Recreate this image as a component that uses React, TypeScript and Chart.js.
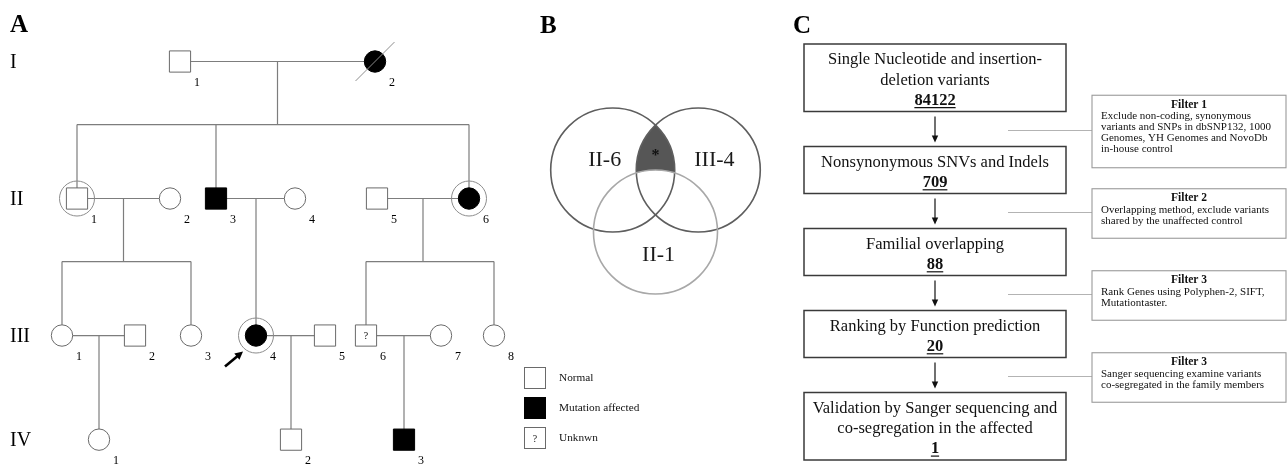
import React, { useEffect, useRef } from 'react';
import { Chart, registerables } from 'chart.js';

Chart.register(...registerables);

const SERIF = "'Liberation Serif', 'Times New Roman', Times, serif";

// ---------------- Panel A: pedigree ----------------
const GENERATIONS = ['I', 'II', 'III', 'IV'];
const GEN_LEVEL = [0, 1, 2, 2.76];
const MEMBER_IDS = ['I-1', 'I-2', 'II-1', 'II-2', 'II-3', 'II-4', 'II-5', 'II-6', 'III-1', 'III-2', 'III-3', 'III-4', 'III-5', 'III-6', 'III-7', 'III-8', 'IV-1', 'IV-2', 'IV-3'];
const MEMBER_GEN = [0, 0, 1, 1, 1, 1, 1, 1, 2, 2, 2, 2, 2, 2, 2, 2, 3, 3, 3];
const MEMBER_POS = [18.0, 37.5, 7.7, 17.0, 21.6, 29.5, 37.7, 46.9, 6.2, 13.5, 19.1, 25.6, 32.5, 36.6, 44.1, 49.4, 9.9, 29.1, 40.4];
const MEMBER_SEX = ['M', 'F', 'M', 'F', 'M', 'F', 'M', 'F', 'F', 'M', 'F', 'F', 'M', 'M', 'F', 'F', 'F', 'M', 'M'];
const MEMBER_STATUS = ['normal', 'affected', 'normal', 'normal', 'affected', 'normal', 'normal', 'affected', 'normal', 'normal', 'normal', 'affected', 'normal', 'unknown', 'normal', 'normal', 'normal', 'normal', 'affected'];
const SEQUENCED_IDS = ['II-1', 'II-6', 'III-4'];
const DECEASED_IDS = ['I-2'];
const PROBAND_ID = 'III-4';
const COUPLES = [['I-1', 'I-2'], ['II-1', 'II-2'], ['II-3', 'II-4'], ['II-5', 'II-6'], ['III-1', 'III-2'], ['III-4', 'III-5'], ['III-6', 'III-7']];
const CHILDREN = [['II-1', 'II-3', 'II-6'], ['III-1', 'III-3'], ['III-4'], ['III-6', 'III-8'], ['IV-1'], ['IV-2'], ['IV-3']];
const LEGEND_LABELS = ['Normal', 'Mutation affected', 'Unknwn'];
const LEGEND_STATUS = ['normal', 'affected', 'unknown'];

// ---------------- Panel B: Venn ----------------
const VENN_SETS = ['II-6', 'III-4', 'II-1'];
const VENN_X = [-0.69, 0.69, 0];
const VENN_Y = [0, 0, -1];
const VENN_R = [1, 1, 1];
const VENN_MARK = '*';

// ---------------- Panel C: filtering flow ----------------
const STEP_LABELS = [
  ['Single Nucleotide and insertion-', 'deletion variants'],
  ['Nonsynonymous SNVs and Indels'],
  ['Familial overlapping'],
  ['Ranking by Function prediction'],
  ['Validation by Sanger sequencing and', 'co-segregation in the affected'],
];
const STEP_COUNTS = ['84122', '709', '88', '20', '1'];
const FILTER_TITLES = ['Filter 1', 'Filter 2', 'Filter 3', 'Filter 3'];
const FILTER_LINES = [
  ['Exclude non-coding, synonymous', 'variants and SNPs in dbSNP132, 1000', 'Genomes, YH Genomes and NovoDb', 'in-house control'],
  ['Overlapping method, exclude variants', 'shared by the unaffected control'],
  ['Rank Genes using Polyphen-2, SIFT,', 'Mutationtaster.'],
  ['Sanger sequencing examine variants', 'co-segregated in the family members'],
];

// ---------------- styles ----------------
const LINE_COLOR = '#7d7d7d';
const SYMBOL_BORDER = '#6a6a6a';

const idx = (id: string) => MEMBER_IDS.indexOf(id);
const memberPoint = (id: string) => ({ x: MEMBER_POS[idx(id)], y: GEN_LEVEL[MEMBER_GEN[idx(id)]] });

function panelLetter(ctx: CanvasRenderingContext2D, t: string, x: number, y: number) {
  ctx.save();
  ctx.font = `bold 25px ${SERIF}`;
  ctx.fillStyle = '#000';
  ctx.textAlign = 'left';
  ctx.textBaseline = 'alphabetic';
  ctx.fillText(t, x, y);
  ctx.restore();
}

const baseOptions = {
  responsive: false,
  maintainAspectRatio: false,
  animation: false,
  events: [],
  layout: { padding: 0, autoPadding: false },
  plugins: { legend: { display: false }, tooltip: { enabled: false } },
};

const pedigreePlugin = {
  id: 'pedigree',
  beforeDatasetsDraw(chart: any) {
    const { ctx, scales } = chart;
    const sx = scales.x, sy = scales.y;
    const px = (id: string) => sx.getPixelForValue(MEMBER_POS[idx(id)]);
    const py = (id: string) => sy.getPixelForValue(GEN_LEVEL[MEMBER_GEN[idx(id)]]);
    const genStep = sy.getPixelForValue(1) - sy.getPixelForValue(0);
    ctx.save();
    ctx.strokeStyle = LINE_COLOR;
    ctx.lineWidth = 1.2;
    COUPLES.forEach(([a, b], k) => {
      const ya = py(a);
      ctx.beginPath();
      ctx.moveTo(px(a), ya);
      ctx.lineTo(px(b), ya);
      ctx.stroke();
      const dropX = (px(a) + px(b)) / 2;
      const kids = CHILDREN[k];
      const kx = kids.map(px);
      const ky = py(kids[0]);
      const sibY = ya + genStep * 0.46;
      ctx.beginPath();
      if (kids.length === 1) {
        ctx.moveTo(kx[0], ya);
        ctx.lineTo(kx[0], ky);
      } else {
        ctx.moveTo(dropX, ya);
        ctx.lineTo(dropX, sibY);
        ctx.moveTo(Math.min(...kx, dropX), sibY);
        ctx.lineTo(Math.max(...kx, dropX), sibY);
        kx.forEach((x) => {
          ctx.moveTo(x, sibY);
          ctx.lineTo(x, ky);
        });
      }
      ctx.stroke();
    });
    ctx.restore();
  },
  afterDatasetsDraw(chart: any) {
    const { ctx, scales, chartArea } = chart;
    const sx = scales.x, sy = scales.y;
    ctx.save();
    // generation labels
    ctx.fillStyle = '#000';
    ctx.font = `20px ${SERIF}`;
    ctx.textAlign = 'left';
    ctx.textBaseline = 'middle';
    GENERATIONS.forEach((g, i) => ctx.fillText(g, chartArea.left + 10, sy.getPixelForValue(GEN_LEVEL[i]) + 1));
    // member numbers
    ctx.font = `12px ${SERIF}`;
    ctx.textAlign = 'center';
    MEMBER_IDS.forEach((id, i) => {
      const x = sx.getPixelForValue(MEMBER_POS[i]);
      const y = sy.getPixelForValue(GEN_LEVEL[MEMBER_GEN[i]]);
      ctx.fillText(id.split('-')[1], x + 17, y + 21);
      if (MEMBER_STATUS[i] === 'unknown') {
        ctx.font = `10px ${SERIF}`;
        ctx.fillText('?', x, y + 1);
        ctx.font = `12px ${SERIF}`;
      }
    });
    // proband arrow
    const pi = idx(PROBAND_ID);
    const cx = sx.getPixelForValue(MEMBER_POS[pi]);
    const cy = sy.getPixelForValue(GEN_LEVEL[MEMBER_GEN[pi]]);
    const x0 = cx - 31, y0 = cy + 31, x1 = cx - 13, y1 = cy + 16;
    const ang = Math.atan2(y1 - y0, x1 - x0);
    ctx.strokeStyle = '#000';
    ctx.fillStyle = '#000';
    ctx.lineWidth = 2.6;
    ctx.beginPath();
    ctx.moveTo(x0, y0);
    ctx.lineTo(x1 - 5 * Math.cos(ang), y1 - 5 * Math.sin(ang));
    ctx.stroke();
    ctx.beginPath();
    ctx.moveTo(x1, y1);
    ctx.lineTo(x1 - 8 * Math.cos(ang) + 4 * Math.sin(ang), y1 - 8 * Math.sin(ang) - 4 * Math.cos(ang));
    ctx.lineTo(x1 - 8 * Math.cos(ang) - 4 * Math.sin(ang), y1 - 8 * Math.sin(ang) + 4 * Math.cos(ang));
    ctx.closePath();
    ctx.fill();
    // legend
    const lx = chartArea.right - 136;
    const ly = chartArea.bottom - 98;
    LEGEND_LABELS.forEach((label, i) => {
      const top = ly + i * 30;
      ctx.fillStyle = LEGEND_STATUS[i] === 'affected' ? '#000' : '#fff';
      ctx.fillRect(lx, top, 21, 21);
      ctx.strokeStyle = LEGEND_STATUS[i] === 'affected' ? '#000' : SYMBOL_BORDER;
      ctx.lineWidth = 1;
      ctx.strokeRect(lx + 0.5, top + 0.5, 21, 21);
      ctx.fillStyle = '#111';
      if (LEGEND_STATUS[i] === 'unknown') {
        ctx.font = `10px ${SERIF}`;
        ctx.textAlign = 'center';
        ctx.fillText('?', lx + 11, top + 12);
      }
      ctx.font = `11.3px ${SERIF}`;
      ctx.textAlign = 'left';
      ctx.fillText(label, lx + 35, top + 11);
    });
    ctx.restore();
    panelLetter(ctx, 'A', chartArea.left + 10, chartArea.top + 32);
  },
};

function pedigreeConfig(): any {
  return {
    type: 'scatter',
    data: {
      datasets: [
        {
          label: 'sequenced',
          data: SEQUENCED_IDS.map(memberPoint),
          pointStyle: 'circle',
          pointRadius: 17.5,
          pointBackgroundColor: 'rgba(0,0,0,0)',
          pointBorderColor: '#8c8c8c',
          pointBorderWidth: 1,
        },
        {
          label: 'deceased',
          data: DECEASED_IDS.map(memberPoint),
          pointStyle: 'line',
          pointRotation: -45,
          pointRadius: 27.5,
          pointBorderColor: '#8c8c8c',
          pointBorderWidth: 1,
        },
        {
          label: 'members',
          data: MEMBER_IDS.map(memberPoint),
          pointStyle: (c: any) => (MEMBER_SEX[c.dataIndex] === 'M' ? 'rect' : 'circle'),
          pointRadius: (c: any) => (MEMBER_SEX[c.dataIndex] === 'M' ? 15 : 10.7),
          pointBackgroundColor: (c: any) => (MEMBER_STATUS[c.dataIndex] === 'affected' ? '#000' : '#fff'),
          pointBorderColor: (c: any) => (MEMBER_STATUS[c.dataIndex] === 'affected' ? '#000' : SYMBOL_BORDER),
          pointBorderWidth: 1,
        },
      ],
    },
    options: {
      ...baseOptions,
      scales: {
        x: { type: 'linear', display: false, min: 0, max: 66 },
        y: { type: 'linear', display: false, reverse: true, min: -0.449, max: 2.945 },
      },
    },
    plugins: [pedigreePlugin],
  };
}

// ---------------- Venn ----------------
const VENN_COLORS = ['#5e5e5e', '#5e5e5e', '#a8a8a8'];
const VENN_LABEL_OFFSETS = [[-0.13, 0.15], [0.26, 0.15], [0.05, -0.37]];

const vennPlugin = {
  id: 'venn',
  beforeDatasetsDraw(chart: any) {
    const { ctx, scales, chartArea } = chart;
    const sx = scales.x, sy = scales.y;
    const unit = sx.getPixelForValue(1) - sx.getPixelForValue(0);
    const c = VENN_SETS.map((_, i) => ({ x: sx.getPixelForValue(VENN_X[i]), y: sy.getPixelForValue(VENN_Y[i]), r: unit * VENN_R[i] }));
    ctx.save();
    ctx.beginPath();
    ctx.arc(c[0].x, c[0].y, c[0].r, 0, Math.PI * 2);
    ctx.clip();
    ctx.beginPath();
    ctx.arc(c[1].x, c[1].y, c[1].r, 0, Math.PI * 2);
    ctx.clip();
    ctx.beginPath();
    ctx.rect(chartArea.left, chartArea.top, chartArea.width, chartArea.height);
    ctx.arc(c[2].x, c[2].y, c[2].r, 0, Math.PI * 2);
    ctx.fillStyle = '#565656';
    ctx.fill('evenodd');
    ctx.restore();
  },
  afterDatasetsDraw(chart: any) {
    const { ctx, scales, chartArea } = chart;
    const sx = scales.x, sy = scales.y;
    ctx.save();
    ctx.fillStyle = '#1a1a1a';
    ctx.font = `22px ${SERIF}`;
    ctx.textAlign = 'center';
    ctx.textBaseline = 'middle';
    VENN_SETS.forEach((s, i) => {
      ctx.fillText(s, sx.getPixelForValue(VENN_X[i] + VENN_LABEL_OFFSETS[i][0]), sy.getPixelForValue(VENN_Y[i] + VENN_LABEL_OFFSETS[i][1]));
    });
    ctx.font = `bold 16px ${SERIF}`;
    ctx.fillStyle = '#111';
    ctx.fillText(VENN_MARK, sx.getPixelForValue((VENN_X[0] + VENN_X[1]) / 2), sy.getPixelForValue((VENN_Y[0] + VENN_Y[1]) / 2 + 0.22));
    ctx.restore();
    panelLetter(ctx, 'B', chartArea.left + 20, chartArea.top + 33);
  },
};

function vennConfig(): any {
  return {
    type: 'scatter',
    data: {
      datasets: [
        {
          label: 'sets',
          data: VENN_SETS.map((_, i) => ({ x: VENN_X[i], y: VENN_Y[i] })),
          pointStyle: 'circle',
          pointRadius: (c: any) => {
            const sx = c.chart.scales.x;
            return (sx.getPixelForValue(1) - sx.getPixelForValue(0)) * VENN_R[c.dataIndex];
          },
          pointBackgroundColor: 'rgba(0,0,0,0)',
          pointBorderColor: (c: any) => VENN_COLORS[c.dataIndex],
          pointBorderWidth: 1.6,
        },
      ],
    },
    options: {
      ...baseOptions,
      scales: {
        x: { type: 'linear', display: false, min: -2.185, max: 2.008 },
        y: { type: 'linear', display: false, min: -2.581, max: 2.742 },
      },
    },
    plugins: [vennPlugin],
  };
}

// ---------------- Flowchart ----------------
const flowPlugin = {
  id: 'flow',
  afterDraw(chart: any) {
    const { ctx, chartArea: a } = chart;
    const left = a.left + 24;
    const w = 262;
    const cx = left + w / 2;
    const lineH = 20.3;
    const boxes: { top: number; h: number }[] = [];
    let top = a.top + 44;
    STEP_LABELS.forEach((lines) => {
      const h = (lines.length + 1) * 20.5 + 6;
      boxes.push({ top, h });
      top += h + 35;
    });
    ctx.save();
    ctx.textAlign = 'center';
    ctx.textBaseline = 'middle';
    boxes.forEach((b, i) => {
      ctx.strokeStyle = '#3a3a3a';
      ctx.lineWidth = 1.5;
      ctx.strokeRect(left, b.top, w, b.h);
      ctx.fillStyle = '#111';
      ctx.font = `16.5px ${SERIF}`;
      STEP_LABELS[i].forEach((t, k) => ctx.fillText(t, cx, b.top + 16 + k * lineH));
      const ny = b.top + 16 + STEP_LABELS[i].length * lineH;
      ctx.font = `bold 16.5px ${SERIF}`;
      ctx.fillText(STEP_COUNTS[i], cx, ny);
      const tw = ctx.measureText(STEP_COUNTS[i]).width;
      ctx.strokeStyle = '#111';
      ctx.lineWidth = 1.2;
      ctx.beginPath();
      ctx.moveTo(cx - tw / 2, ny + 7);
      ctx.lineTo(cx + tw / 2, ny + 7);
      ctx.stroke();
    });
    const fLeft = a.left + 312;
    const fRight = a.left + 506;
    const connStart = a.left + 228;
    for (let i = 0; i < boxes.length - 1; i++) {
      const y0 = boxes[i].top + boxes[i].h + 5;
      const y1 = boxes[i + 1].top - 4;
      ctx.strokeStyle = '#111';
      ctx.fillStyle = '#111';
      ctx.lineWidth = 1.2;
      ctx.beginPath();
      ctx.moveTo(cx, y0);
      ctx.lineTo(cx, y1 - 5);
      ctx.stroke();
      ctx.beginPath();
      ctx.moveTo(cx - 3.2, y1 - 7);
      ctx.lineTo(cx + 3.2, y1 - 7);
      ctx.lineTo(cx, y1);
      ctx.closePath();
      ctx.fill();
      // filter box
      const connY = (y0 + y1) / 2 + 1;
      ctx.strokeStyle = '#b3b3b3';
      ctx.lineWidth = 1.1;
      ctx.beginPath();
      ctx.moveTo(connStart, connY);
      ctx.lineTo(fLeft, connY);
      ctx.stroke();
      const lines = FILTER_LINES[i];
      const h = 38 + (lines.length - 1) * 11.5;
      const ft = connY - h / 2 + 1;
      ctx.strokeStyle = '#9a9a9a';
      ctx.strokeRect(fLeft, ft, fRight - fLeft, h);
      ctx.fillStyle = '#111';
      ctx.textAlign = 'center';
      ctx.font = `bold 11.5px ${SERIF}`;
      ctx.fillText(FILTER_TITLES[i], (fLeft + fRight) / 2, ft + 9.5);
      ctx.textAlign = 'left';
      ctx.font = `11px ${SERIF}`;
      lines.forEach((t, k) => ctx.fillText(t, fLeft + 9, ft + 21 + k * 11));
      ctx.textAlign = 'center';
    }
    ctx.restore();
    panelLetter(ctx, 'C', a.left + 13, a.top + 33);
  },
};

function flowConfig(): any {
  return {
    type: 'scatter',
    data: { datasets: [] },
    options: {
      ...baseOptions,
      scales: {
        x: { type: 'linear', display: false, min: 0, max: 1 },
        y: { type: 'linear', display: false, min: 0, max: 1 },
      },
    },
    plugins: [flowPlugin],
  };
}

export default function App() {
  const refA = useRef<HTMLCanvasElement>(null);
  const refB = useRef<HTMLCanvasElement>(null);
  const refC = useRef<HTMLCanvasElement>(null);
  useEffect(() => {
    const charts = [
      new Chart(refA.current as HTMLCanvasElement, pedigreeConfig()),
      new Chart(refB.current as HTMLCanvasElement, vennConfig()),
      new Chart(refC.current as HTMLCanvasElement, flowConfig()),
    ];
    return () => charts.forEach((c) => c.destroy());
  }, []);
  return (
    <div style={{ position: 'absolute', left: 0, top: 0, width: 1287, height: 465, background: '#fff', overflow: 'hidden' }}>
      <canvas ref={refA} width={660} height={465} style={{ position: 'absolute', left: 0, top: 0 }} />
      <canvas ref={refB} width={260} height={330} style={{ position: 'absolute', left: 520, top: 0 }} />
      <canvas ref={refC} width={507} height={465} style={{ position: 'absolute', left: 780, top: 0 }} />
    </div>
  );
}
